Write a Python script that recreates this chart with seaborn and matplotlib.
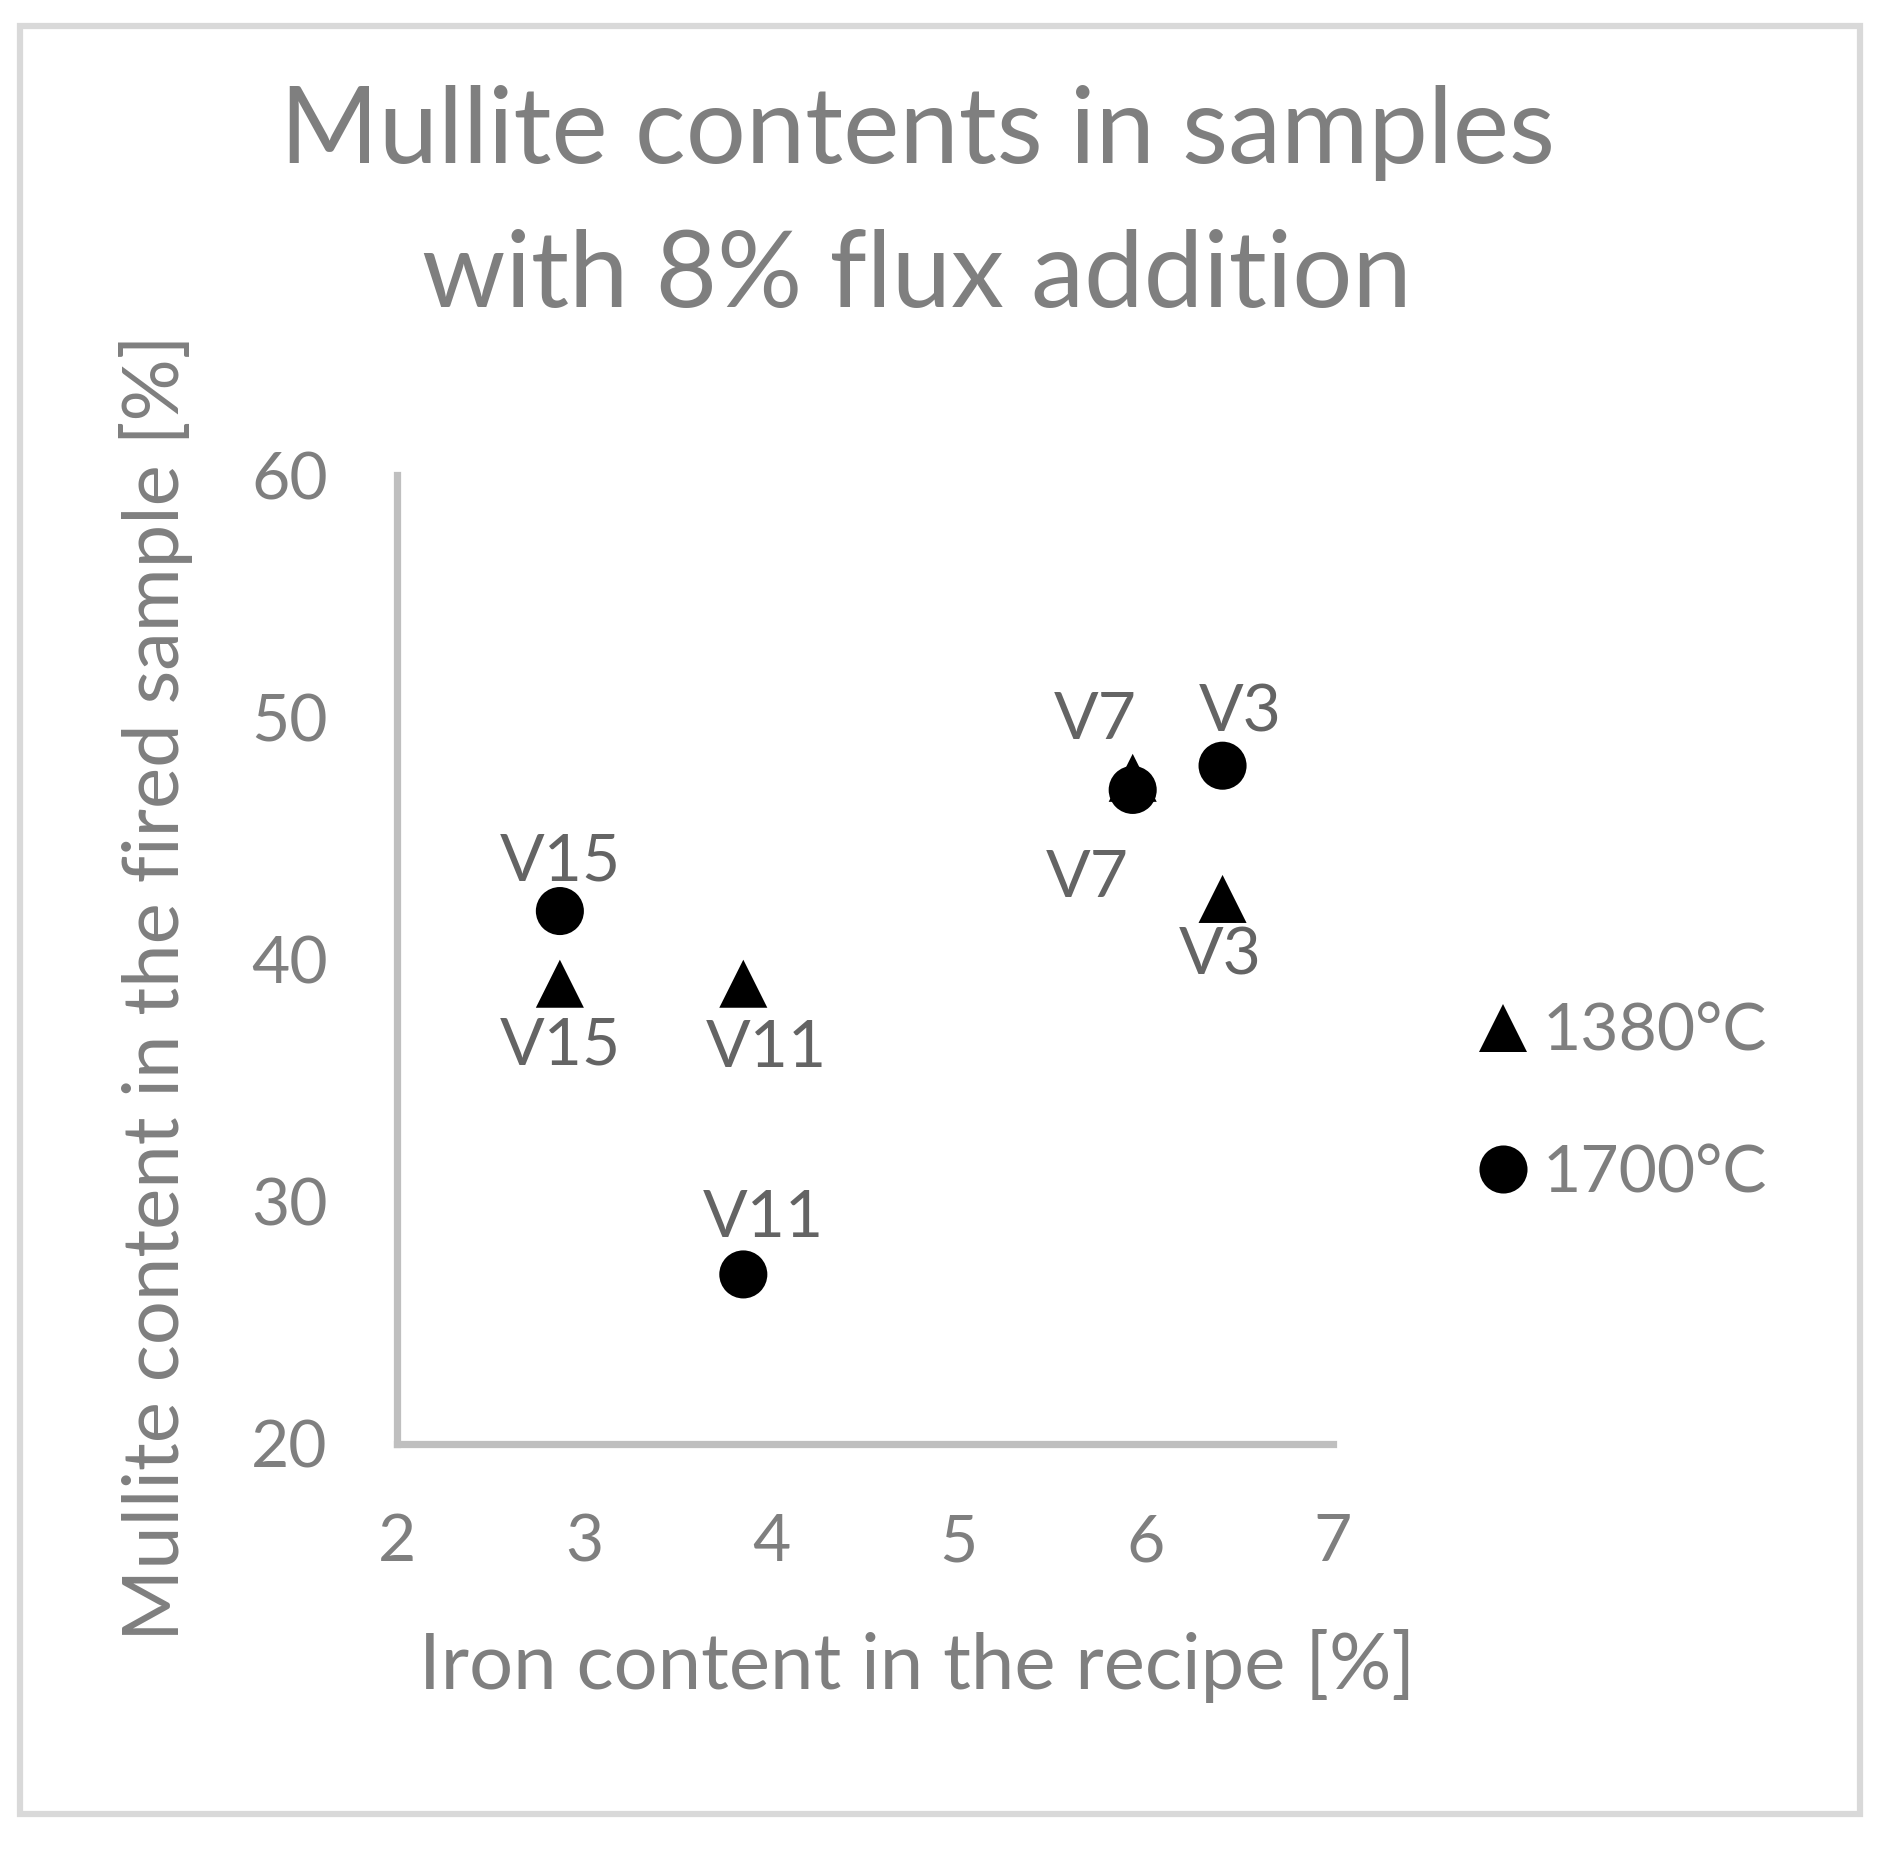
import matplotlib
matplotlib.use("Agg")
import matplotlib.pyplot as plt
from matplotlib.lines import Line2D
from matplotlib.patches import Rectangle
import seaborn as sns
import pandas as pd

# ---- data ----
samples = ["V15", "V11", "V7", "V3"]
iron = [2.87, 3.85, 5.93, 6.41]
mullite_1380 = [39.0, 39.0, 47.5, 42.5]
mullite_1700 = [42.0, 27.0, 47.0, 48.0]
temps = ["1380°C", "1700°C"]
x_ticks = [2, 3, 4, 5, 6, 7]
y_ticks = [20, 30, 40, 50, 60]

df = pd.DataFrame({
    "iron": iron + iron,
    "mullite": mullite_1380 + mullite_1700,
    "temp": [temps[0]] * 4 + [temps[1]] * 4,
    "sample": samples + samples,
})

# label offsets in pixels (dx, dy) for each point, same order as df
label_offsets = [
    (0, -62), (23, -65), (-45, -101), (-2, -57),   # 1380 (below)
    (0, 49), (20, 56), (-37, 69), (18, 53),        # 1700 (above)
]

sns.set_theme(style="white")
plt.rcParams["font.family"] = ["Lato", "DejaVu Sans"]

W, H = 1885, 1850
fig = plt.figure(figsize=(W / 100, H / 100), dpi=100)
ax = fig.add_axes([397 / W, 1 - 1444 / H, (1333 - 397) / W, (1444 - 475) / H])

markers = {temps[0]: "^", temps[1]: "o"}
sns.scatterplot(data=df, x="iron", y="mullite", style="temp", markers=markers,
                color="black", s=1197, linewidth=0, legend=False, ax=ax)

ax.set_xlim(2, 7)
ax.set_ylim(20, 60)
ax.set_xticks(x_ticks)
ax.set_yticks(y_ticks)
ax.set_xticklabels([str(v) for v in x_ticks])
ax.set_yticklabels([str(v) for v in y_ticks])
tick_col = "#7f7f7f"
ax.tick_params(axis="both", length=0, labelsize=47.5, labelcolor=tick_col)
ax.tick_params(axis="y", pad=50)
ax.tick_params(axis="x", pad=50)
for s in ["top", "right"]:
    ax.spines[s].set_visible(False)
for s in ["left", "bottom"]:
    ax.spines[s].set_color("#bfbfbf")
    ax.spines[s].set_linewidth(5.2)
ax.set_xlabel("")
ax.set_ylabel("")
ax.grid(False)

for (xv, yv, lab), (dx, dy) in zip(df[["iron", "mullite", "sample"]].values, label_offsets):
    ax.annotate(lab, (xv, yv), xytext=(dx, dy), textcoords="offset pixels",
                ha="center", va="center", fontsize=47.5, color="#646464")

title_col = "#7f7f7f"
fig.text(917 / W, 1 - 163 / H, "Mullite contents in samples", ha="center",
         va="baseline", fontsize=76.5, color=title_col)
fig.text(917 / W, 1 - 307 / H, "with 8% flux addition", ha="center",
         va="baseline", fontsize=76.5, color=title_col)

fig.text(917 / W, 1 - 1689 / H, "Iron content in the recipe [%]", ha="center",
         va="baseline", fontsize=56, color=title_col)
fig.text(156 / W, 1 - 988 / H, "Mullite content in the fired sample [%]", ha="center",
         va="center", rotation=90, fontsize=56, color=title_col)

handles = [Line2D([], [], marker=markers[t], ls="", color="black", markersize=34.6,
                  markeredgewidth=0) for t in temps]
leg = ax.legend(handles, temps, loc="center left",
                bbox_to_anchor=(1480 / W, 1 - 1103 / H), bbox_transform=fig.transFigure,
                frameon=False, fontsize=47.5, handlelength=0.7, handletextpad=0.25,
                labelspacing=1.25, borderpad=0, borderaxespad=0)
for t in leg.get_texts():
    t.set_color(tick_col)

fig.patches.append(Rectangle((20 / W, 1 - 1814 / H), (1860 - 20) / W, (1814 - 26) / H,
                             transform=fig.transFigure, fill=False,
                             edgecolor="#d9d9d9", linewidth=4.5))

fig.savefig("out.png", dpi=100, facecolor="white")
